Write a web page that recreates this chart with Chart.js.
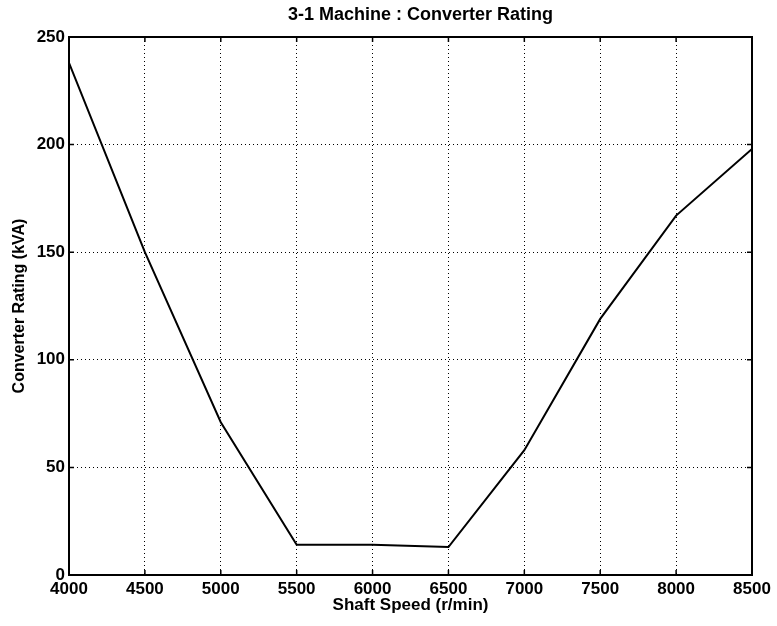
<!DOCTYPE html>
<html>
<head>
<meta charset="utf-8">
<script src="https://cdn.jsdelivr.net/npm/chart.js@4"></script>
<style>
  html, body { margin: 0; padding: 0; background: #fff; }
  #c { display: block; }
</style>
</head>
<body>
<canvas id="c" width="777" height="626"></canvas>
<script>
// ---- data ----
const chartTitle = "3-1 Machine : Converter Rating";
const xTitle = "Shaft Speed (r/min)";
const yTitle = "Converter Rating (kVA)";
const shaftSpeed = [4000, 4500, 5000, 5500, 6000, 6500, 7000, 7500, 8000, 8500];
const converterRating = [238, 150, 71, 14, 14, 13, 58, 119, 167, 198];
const xTicks = [4000, 4500, 5000, 5500, 6000, 6500, 7000, 7500, 8000, 8500];
const yTicks = [0, 50, 100, 150, 200, 250];

const FONT = "'Liberation Sans', Arial, Helvetica, sans-serif";

const points = shaftSpeed.map((s, i) => ({ x: s, y: converterRating[i] }));

const frame = {
  id: 'frame',
  afterDraw(chart) {
    const { ctx, chartArea: a, scales } = chart;
    ctx.save();
    ctx.strokeStyle = '#000';
    ctx.lineWidth = 1.5;
    const tl = 5;
    ctx.beginPath();
    scales.x.ticks.forEach(t => {
      const px = scales.x.getPixelForValue(t.value);
      ctx.moveTo(px, a.bottom); ctx.lineTo(px, a.bottom - tl);
      ctx.moveTo(px, a.top); ctx.lineTo(px, a.top + tl);
    });
    scales.y.ticks.forEach(t => {
      const py = scales.y.getPixelForValue(t.value);
      ctx.moveTo(a.left, py); ctx.lineTo(a.left + tl, py);
      ctx.moveTo(a.right, py); ctx.lineTo(a.right - tl, py);
    });
    ctx.stroke();
    ctx.lineWidth = 2;
    ctx.strokeRect(a.left, a.top, a.right - a.left, a.bottom - a.top);
    ctx.fillStyle = '#000';
    ctx.font = 'bold 18px ' + FONT;
    ctx.textAlign = 'center';
    ctx.textBaseline = 'middle';
    ctx.fillText(chartTitle, (a.left + a.right) / 2 + 10, 15);
    ctx.restore();
  }
};

new Chart(document.getElementById('c'), {
  type: 'line',
  data: {
    datasets: [{
      data: points,
      borderColor: '#000',
      borderWidth: 2,
      pointRadius: 0,
      tension: 0,
      fill: false
    }]
  },
  options: {
    responsive: false,
    animation: false,
    devicePixelRatio: 1,
    layout: { padding: { top: 37, right: 25, left: 0, bottom: 0 } },
    plugins: {
      legend: { display: false },
      title: { display: false },
      tooltip: { enabled: false }
    },
    scales: {
      x: {
        type: 'linear',
        min: 4000, max: 8500,
        afterBuildTicks(scale) { scale.ticks = xTicks.map(v => ({ value: v })); },
        afterFit(scale) { scale.height = 51; },
        ticks: {
          color: '#000',
          font: { family: FONT, size: 17, weight: 'bold' },
          padding: 4,
          maxRotation: 0,
          autoSkip: false,
          callback: v => String(v)
        },
        grid: { color: '#000', lineWidth: 1, drawTicks: false },
        border: { display: false, dash: [1, 3] },
        title: {
          display: true, text: xTitle, color: '#000',
          font: { family: FONT, size: 17, weight: 'bold' },
          padding: { top: 0, bottom: 10 }
        }
      },
      y: {
        type: 'linear',
        min: 0, max: 250,
        afterBuildTicks(scale) { scale.ticks = yTicks.map(v => ({ value: v })); },
        afterFit(scale) { scale.width = 69; },
        ticks: {
          color: '#000',
          font: { family: FONT, size: 17, weight: 'bold' },
          padding: 4,
          autoSkip: false,
          callback: v => String(v)
        },
        grid: { color: '#000', lineWidth: 1, drawTicks: false },
        border: { display: false, dash: [1, 3] },
        title: {
          display: true, text: yTitle, color: '#000',
          font: { family: FONT, size: 16, weight: 'bold' },
          padding: { top: 10, bottom: 0 }
        }
      }
    }
  },
  plugins: [frame]
});
</script>
</body>
</html>
